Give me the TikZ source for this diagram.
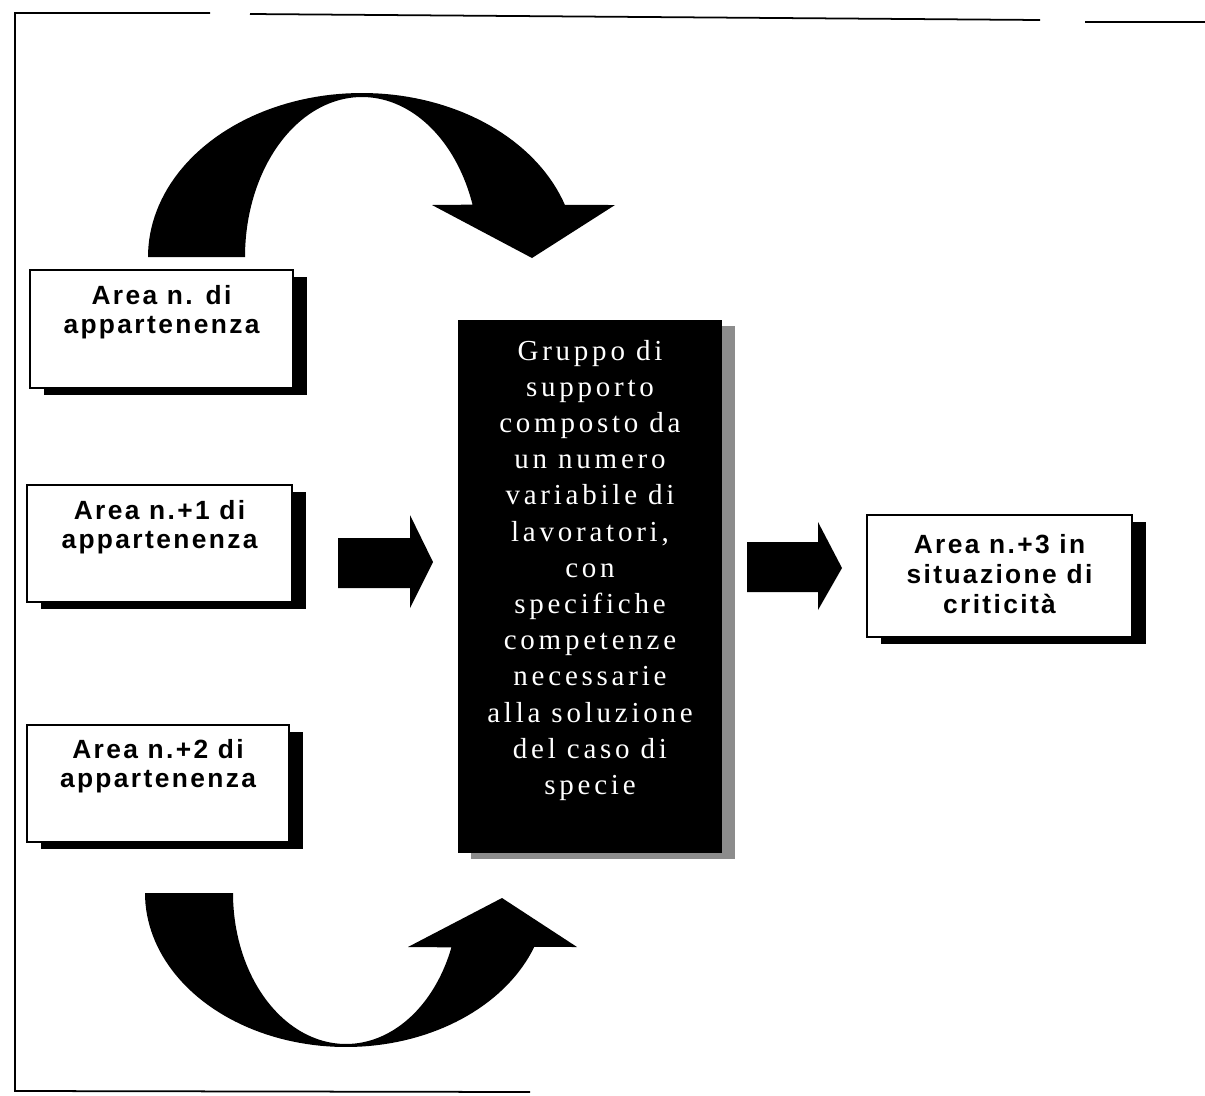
\documentclass[tikz,border=0pt]{standalone}
\usepackage{fontspec}
\setmainfont{Liberation Serif}
\newfontfamily\boxfont[LetterSpace=9]{Liberation Sans}
\newfontfamily\grpfont[LetterSpace=13]{Liberation Serif}
\usetikzlibrary{calc,shadows}
\begin{document}
\begin{tikzpicture}[x=0.02cm,y=-0.02cm,
  areabox/.style={draw=black,line width=1pt,fill=white,inner sep=0pt,
    drop shadow={shadow xshift=0.28cm,shadow yshift=-0.14cm,fill=black,opacity=1}},
  grpbox/.style={fill=black,inner sep=0pt,
    drop shadow={shadow xshift=0.26cm,shadow yshift=-0.12cm,fill=black!45,opacity=1}},
  areatext/.style={font=\boxfont\bfseries\fontsize{15}{16.5}\selectfont,align=center,anchor=north,inner sep=0pt},
  grptext/.style={font=\grpfont\fontsize{16.5}{20.6}\selectfont,text=white,align=center,anchor=north,inner sep=0pt},
  blockarrow/.style={fill=black},
  frameline/.style={line width=1pt,draw=black}]
\useasboundingbox (0,0) rectangle (1205,1096);
\fill[white] (0,0) rectangle (1205,1096);

% frame
\draw[frameline] (1205,22) -- (1085,22);
\draw[frameline] (1040,20) -- (250,14);
\draw[frameline] (210,13) -- (15,13) -- (15,1091) -- (530,1092);

% boxes
\node[areabox,minimum width=5.26cm,minimum height=2.36cm] (a1) at (161.5,329) {};
\node[areatext] (t1) at ($(a1.north)+(0,16)$) {Area n. di\\appartenenza};

\node[areabox,minimum width=5.30cm,minimum height=2.34cm] (a2) at (159.5,543.5) {};
\node[areatext] (t2) at ($(a2.north)+(0,16)$) {Area n.+1 di\\appartenenza};

\node[areabox,minimum width=5.24cm,minimum height=2.34cm] (a3) at (158,783.5) {};
\node[areatext] (t3) at ($(a3.north)+(0,15)$) {Area n.+2 di\\appartenenza};

\node[areabox,minimum width=5.30cm,minimum height=2.44cm] (a4) at (999.5,576) {};
\node[areatext,font=\boxfont\bfseries\fontsize{15}{17}\selectfont] (t4) at ($(a4.north)+(0,20)$) {Area n.+3 in\\situazione di\\criticità};

\node[grpbox,minimum width=5.28cm,minimum height=10.66cm] (grp) at (590,586.5) {};
\node[grptext] (tg) at ($(grp.north)+(0,20)$) {Gruppo di\\supporto\\composto da\\un numero\\variabile di\\lavoratori,\\con\\specifiche\\competenze\\necessarie\\alla soluzione\\del caso di\\specie};

% straight block arrows
\coordinate (la) at (338,563);
\coordinate (ra) at (747,567);
\fill[blockarrow] (la) ++(0,-25) -- (410,538) -- (410,515) -- (433,562) -- (410,608) -- (410,588) -- (338,588) -- cycle;
\fill[blockarrow] (ra) ++(0,-25) -- (818,542) -- (818,522) -- (842,568) -- (818,610) -- (818,592) -- (747,592) -- cycle;

% top curved arrow
\fill[blockarrow]
  plot[domain=180:18.5,samples=80] ({362+214*cos(\x)},{257-164*sin(\x)})
  -- (615,205) -- (532,258) -- (432,205)
  -- plot[domain=19.1:180,samples=80] ({362+117*cos(\x)},{257-160*sin(\x)})
  -- cycle;

% bottom curved arrow
\fill[blockarrow]
  plot[domain=180:20.5,samples=80] ({346+201*cos(\x)},{893+154*sin(\x)})
  -- (577,947) -- (502,898) -- (408,947)
  -- plot[domain=21.1:180,samples=80] ({346+113*cos(\x)},{893+151*sin(\x)})
  -- cycle;
\end{tikzpicture}
\end{document}
